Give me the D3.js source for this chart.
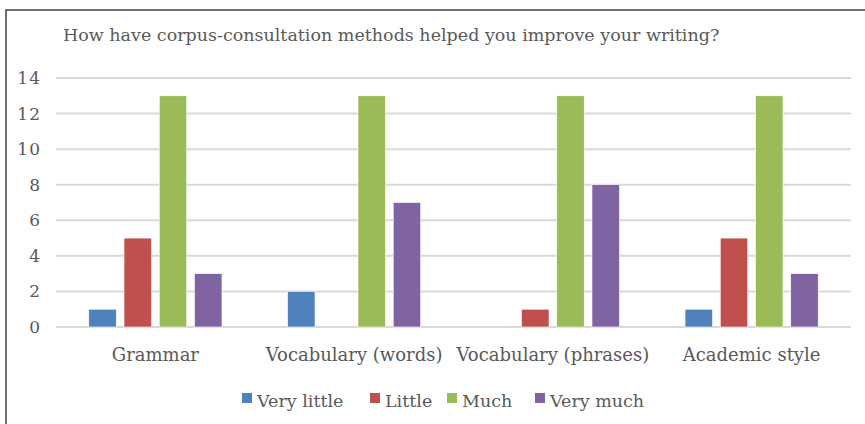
<!DOCTYPE html>
<meta charset="utf-8">
<script src="https://d3js.org/d3.v7.min.js"></script>
<style>
body { margin: 0; background: #fff; }
text { font-family: "DejaVu Serif", serif; fill: #595959; }
</style>
<div id="main"></div>
<script>

const categories = ["Grammar", "Vocabulary (words)", "Vocabulary (phrases)", "Academic style"];
const series = ["Very little", "Little", "Much", "Very much"];
const colors = ["#4f81bd", "#c0504d", "#9bbb59", "#8064a2"];
// values per series, in category order
const veryLittle = [1, 2, 0, 1];
const little = [5, 0, 1, 5];
const much = [13, 13, 13, 13];
const veryMuch = [3, 7, 8, 3];
const yTicks = [0, 2, 4, 6, 8, 10, 12, 14];

const values = [veryLittle, little, much, veryMuch];

const width = 865, height = 424;
const plot = {left: 56, right: 851, top: 78, bottom: 327};

let svg = d3.select("#main").append("svg")
    .attr("width", width)
    .attr("height", height);

// outer frame (only top and left visible)
svg.append("path")
    .attr("d", "M6,440 V10 H870")
    .attr("fill", "none")
    .attr("stroke", "#404040")
    .attr("stroke-width", 1.5);

svg.append("text")
    .attr("x", 63)
    .attr("y", 41)
    .attr("font-size", 17.5)
    .text("How have corpus-consultation methods helped you improve your writing?");

let y = d3.scaleLinear().domain([0, 14]).range([plot.bottom, plot.top]);
let x0 = d3.scaleBand().domain(categories).range([plot.left, plot.right]);
let bw = x0.bandwidth();
let x1 = d3.scaleBand().domain(series).range([bw * 0.165, bw * 0.835]).paddingInner(0.22);

// gridlines
svg.append("g")
  .selectAll("line")
  .data(yTicks)
  .enter().append("line")
    .attr("x1", plot.left)
    .attr("x2", plot.right)
    .attr("y1", d => y(d))
    .attr("y2", d => y(d))
    .attr("stroke", "#d9d9d9")
    .attr("stroke-width", 2);

// y tick labels
svg.append("g")
  .selectAll("text")
  .data(yTicks)
  .enter().append("text")
    .attr("x", 41)
    .attr("y", d => y(d))
    .attr("dy", "0.35em")
    .attr("text-anchor", "end")
    .attr("font-size", 17)
    .attr("letter-spacing", 1)
    .text(d => d);

// bars
let groups = svg.append("g")
  .selectAll("g")
  .data(categories)
  .enter().append("g")
    .attr("transform", d => "translate(" + x0(d) + ",0)");

groups.selectAll("rect")
  .data((c, ci) => series.map((s, si) => ({s: s, i: si, v: values[si][ci]})))
  .enter().append("rect")
    .filter(d => d.v > 0)
    .attr("x", d => x1(d.s))
    .attr("width", x1.bandwidth())
    .attr("y", d => y(d.v))
    .attr("height", d => y(0) - y(d.v))
    .attr("fill", d => colors[d.i])
    .attr("stroke", "#fff")
    .attr("stroke-width", 0.6);

// category labels
svg.append("g")
  .selectAll("text")
  .data(categories)
  .enter().append("text")
    .attr("x", d => x0(d) + bw / 2)
    .attr("y", 361)
    .attr("text-anchor", "middle")
    .attr("font-size", 18)
    .text(d => d);

// legend
const legendX = [242, 370, 447, 535];
let legend = svg.append("g")
  .selectAll("g")
  .data(series)
  .enter().append("g")
    .attr("transform", (d, i) => "translate(" + legendX[i] + ",393)");

legend.append("rect")
    .attr("width", 10)
    .attr("height", 10)
    .attr("fill", (d, i) => colors[i]);

legend.append("text")
    .attr("x", 15)
    .attr("y", 14)
    .attr("font-size", 17.5)
    .text(d => d);

</script>
